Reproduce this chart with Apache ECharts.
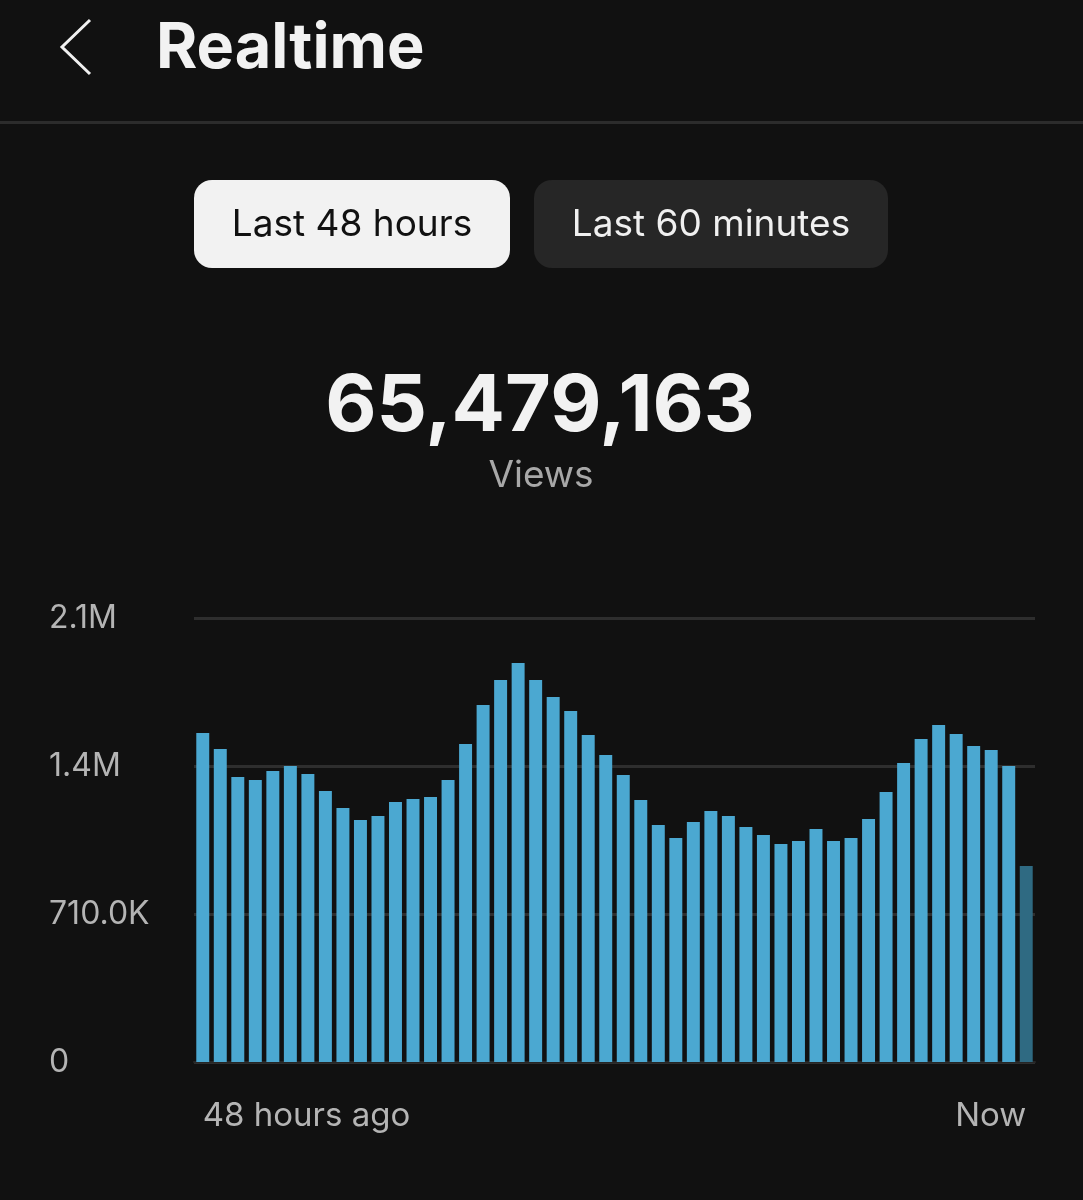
<!DOCTYPE html>
<html>
<head>
<meta charset="utf-8">
<script src="https://cdn.jsdelivr.net/npm/echarts@6/dist/echarts.min.js"></script>
<style>
  html, body { margin: 0; padding: 0; background: #111111; }
  #chart { width: 1083px; height: 1200px; }
</style>
</head>
<body>
<div id="chart"></div>
<script>
// ---- data ----
const hours = [];
for (let i = 0; i < 48; i++) hours.push(i === 0 ? '48 hours ago' : (i === 47 ? 'Now' : ''));
const views = [
  1578000, 1501600, 1367200, 1352800, 1396000, 1420000, 1381600, 1300100,
  1218500, 1160900, 1180100, 1247300, 1261700, 1271300, 1352800, 1525500,
  1712600, 1832600, 1914100, 1832600, 1751000, 1683800, 1568700, 1472800,
  1376800, 1256900, 1136900, 1074600, 1151400, 1204100, 1180100, 1127400,
  1089000, 1045800, 1060200, 1117800, 1060200, 1074600, 1165700, 1295300,
  1434400, 1549500, 1616700, 1573500, 1515900, 1496800, 1420000, 940300
];
const yTickLabels = ['0', '710.0K', '1.4M', '2.1M'];
const yInterval = 710000;
const yMax = 2130000;
const totalViews = '65,479,163';
const pageTitle = 'Realtime';
const tabLabels = ['Last 48 hours', 'Last 60 minutes'];

const chart = echarts.init(document.getElementById('chart'), null, { renderer: 'canvas' });
const font = 'Inter, "Noto Sans", Roboto, sans-serif';

const barData = views.map((v, i) => i === views.length - 1
  ? { value: v, itemStyle: { color: '#2f6a82' } }
  : v);

chart.setOption({
  backgroundColor: '#111111',
  animation: false,
  grid: { left: 194, right: 48, top: 618, bottom: 138, containLabel: false },
  xAxis: {
    type: 'category',
    data: hours,
    axisLine: { show: true, lineStyle: { color: '#262626', width: 2 } },
    axisTick: { show: false },
    axisLabel: {
      interval: 0,
      color: '#b4b4b4',
      fontFamily: font,
      fontSize: 33,
      margin: 38,
      alignMinLabel: 'left',
      alignMaxLabel: 'right'
    }
  },
  yAxis: {
    type: 'value',
    min: 0,
    max: yMax,
    interval: yInterval,
    axisLine: { show: false },
    axisTick: { show: false },
    splitLine: { show: true, lineStyle: { color: '#2e2e2e', width: 3 } },
    axisLabel: {
      color: '#b4b4b4',
      fontFamily: font,
      fontSize: 32,
      align: 'left',
      margin: 145,
      formatter: (v) => yTickLabels[Math.round(v / yInterval)]
    }
  },
  series: [{
    type: 'bar',
    data: barData,
    barCategoryGap: '26%',
    itemStyle: { color: '#4ba8d1' }
  }],
  graphic: [
    { type: 'polyline', shape: { points: [[90, 20], [62, 47], [90, 74]] },
      style: { stroke: '#f0f0f0', lineWidth: 3, fill: null } },
    { type: 'text', x: 156, y: 49,
      style: { text: pageTitle, fill: '#f2f2f2', font: 'bold 63px ' + font, verticalAlign: 'middle' } },
    { type: 'rect', shape: { x: 0, y: 121, width: 1083, height: 3 },
      style: { fill: '#2c2c2c' } },
    { type: 'rect', shape: { x: 194, y: 180, width: 316, height: 88, r: 18 },
      style: { fill: '#f2f2f2' } },
    { type: 'text', x: 352, y: 225,
      style: { text: tabLabels[0], fill: '#111111', font: '37px ' + font, align: 'center', verticalAlign: 'middle' } },
    { type: 'rect', shape: { x: 534, y: 180, width: 354, height: 88, r: 18 },
      style: { fill: '#262626' } },
    { type: 'text', x: 711, y: 225,
      style: { text: tabLabels[1], fill: '#f0f0f0', font: '37px ' + font, align: 'center', verticalAlign: 'middle' } },
    { type: 'text', x: 540, y: 407,
      style: { text: totalViews, fill: '#f2f2f2', font: 'bold 79px ' + font, align: 'center', verticalAlign: 'middle' } },
    { type: 'text', x: 541, y: 476,
      style: { text: 'Views', fill: '#a8a8a8', font: '37px ' + font, align: 'center', verticalAlign: 'middle' } }
  ]
});
</script>
</body>
</html>
